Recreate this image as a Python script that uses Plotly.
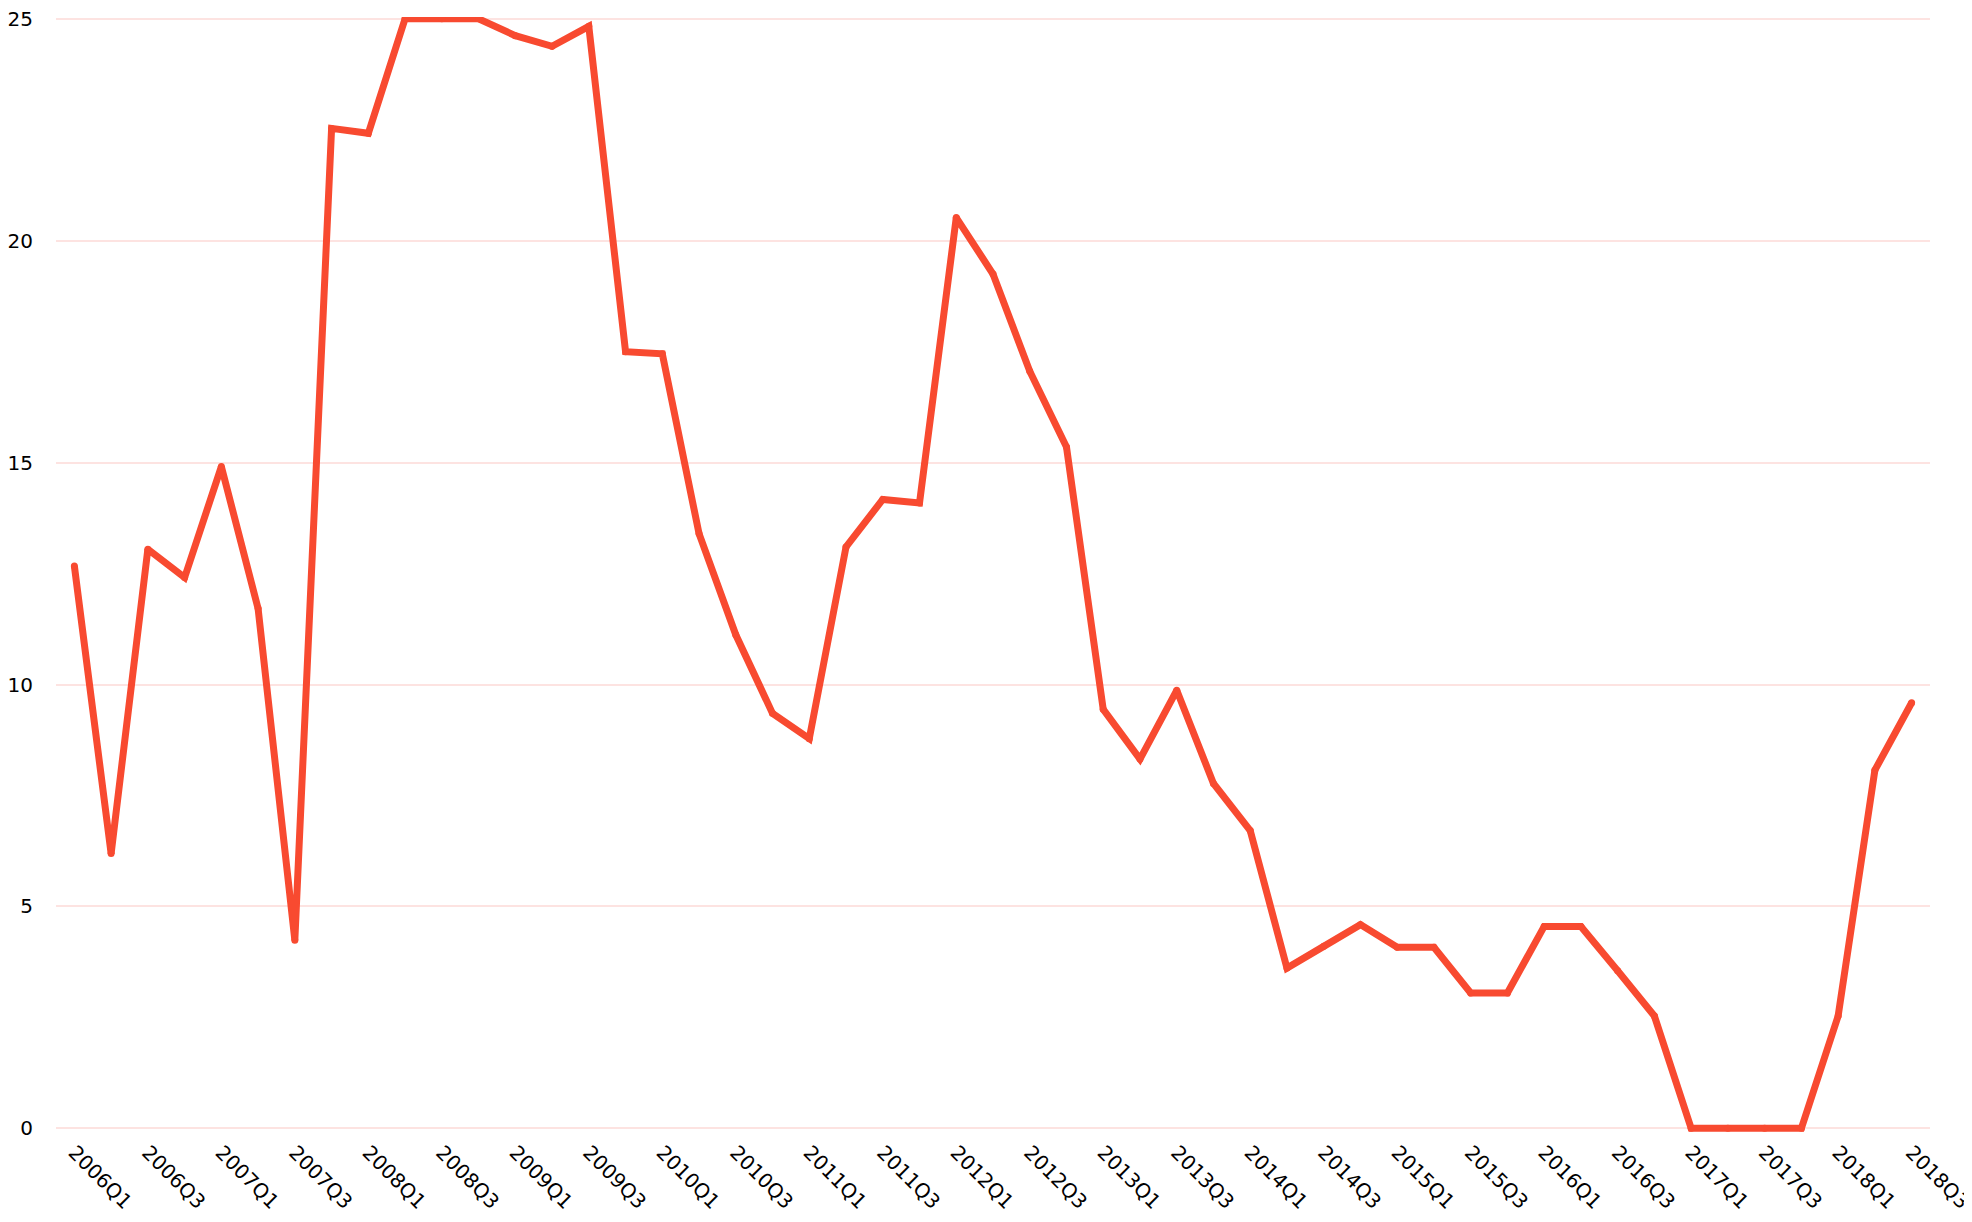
import plotly.graph_objects as go

quarters = [
    "2006Q1", "2006Q2", "2006Q3", "2006Q4",
    "2007Q1", "2007Q2", "2007Q3", "2007Q4",
    "2008Q1", "2008Q2", "2008Q3", "2008Q4",
    "2009Q1", "2009Q2", "2009Q3", "2009Q4",
    "2010Q1", "2010Q2", "2010Q3", "2010Q4",
    "2011Q1", "2011Q2", "2011Q3", "2011Q4",
    "2012Q1", "2012Q2", "2012Q3", "2012Q4",
    "2013Q1", "2013Q2", "2013Q3", "2013Q4",
    "2014Q1", "2014Q2", "2014Q3", "2014Q4",
    "2015Q1", "2015Q2", "2015Q3", "2015Q4",
    "2016Q1", "2016Q2", "2016Q3", "2016Q4",
    "2017Q1", "2017Q2", "2017Q3", "2017Q4",
    "2018Q1", "2018Q2", "2018Q3",
]

values = [
    12.67, 6.19, 13.05, 12.41,
    14.91, 11.71, 4.24, 22.53,
    22.42, 25.0, 25.0, 25.0,
    24.62, 24.38, 24.83, 17.50,
    17.45, 13.40, 11.12, 9.35,
    8.78, 13.10, 14.17, 14.09,
    20.52, 19.25, 17.06, 15.35,
    9.44, 8.32, 9.87, 7.77,
    6.71, 3.61, 4.10, 4.59,
    4.08, 4.08, 3.05, 3.05,
    4.55, 4.55, 3.55, 2.53,
    0.0, 0.0, 0.0, 0.0,
    2.53, 8.07, 9.59,
]

x_tick_labels = [q for q in quarters if q.endswith("Q1") or q.endswith("Q3")]
y_ticks = [0, 5, 10, 15, 20, 25]

LINE_COLOR = "#f84a30"

fig = go.Figure()
fig.add_trace(go.Scatter(
    x=quarters,
    y=values,
    mode="lines+markers",
    line=dict(color=LINE_COLOR, width=7),
    marker=dict(color=LINE_COLOR, size=7, line=dict(width=0)),
    hoverinfo="x+y",
    showlegend=False,
))

# The page body adds an 8px margin, so the figure is sized to fit the window.
fig.update_layout(
    width=1964,
    height=1206,
    margin=dict(l=48, r=42, t=9, b=79),
    paper_bgcolor="white",
    plot_bgcolor="white",
    font=dict(family="DejaVu Sans", size=20, color="black"),
    xaxis=dict(
        type="category",
        range=[-0.5, 50.5],
        tickmode="array",
        tickvals=x_tick_labels,
        ticktext=x_tick_labels,
        tickangle=45,
        showgrid=False,
        zeroline=False,
        showline=False,
        ticks="",
        automargin=False,
        ticklabelstandoff=1,
        ticklabeloverflow="allow",
        tickfont=dict(family="DejaVu Sans", size=20, color="black"),
    ),
    yaxis=dict(
        range=[-0.15, 25.04],
        tickmode="array",
        tickvals=y_ticks,
        showgrid=True,
        gridcolor="#fde3e1",
        gridwidth=2,
        zeroline=False,
        showline=False,
        ticks="",
        automargin=False,
        ticklabelstandoff=22,
        ticklabeloverflow="allow",
        tickfont=dict(family="DejaVu Sans", size=20, color="black"),
    ),
)

fig.write_html("out.html")
